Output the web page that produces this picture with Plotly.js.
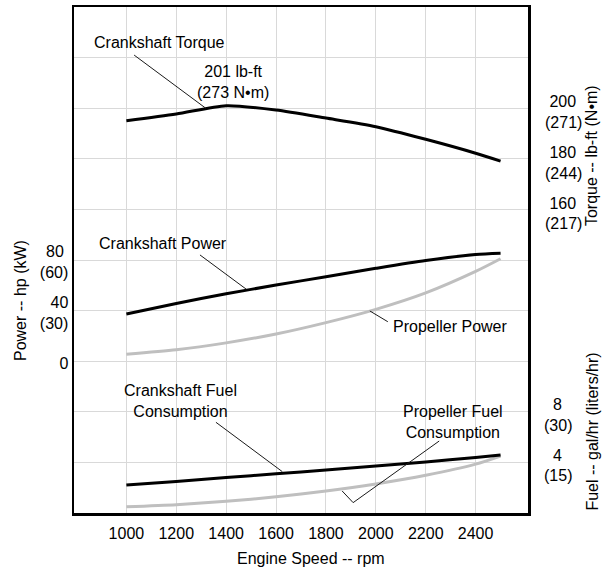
<!DOCTYPE html>
<html>
<head>
<meta charset="utf-8">
<script src="https://cdn.plot.ly/plotly-3.0.1.min.js"></script>
<style>html,body{margin:0;padding:0;background:#fff;}#chart{width:607px;height:572px;}</style>
</head>
<body>
<div id="chart"></div>
<script>
// ---- data ----
const rpm = [1000, 1200, 1400, 1600, 1800, 2000, 2200, 2400, 2500];
const crankTorque = [195.0, 197.7, 201.0, 199.3, 196.1, 192.7, 187.7, 182.2, 179.1];   // lb-ft
const crankPower = [37.3, 45.6, 53.3, 60.2, 66.8, 73.4, 79.6, 84.3, 85.3];             // hp
const propPower = [5.5, 9.0, 14.5, 21.5, 30.5, 41.0, 54.0, 71.0, 81.0];                // hp
const crankFuel = [2.21, 2.50, 2.80, 3.10, 3.40, 3.72, 4.04, 4.38, 4.58];              // gal/hr
const propFuel = [0.50, 0.66, 0.92, 1.28, 1.74, 2.30, 2.98, 3.86, 4.50];               // gal/hr

const xTicks = [1000, 1200, 1400, 1600, 1800, 2000, 2200, 2400];
const powerGrid = [-80, -40, 0, 40, 80, 120, 160, 200, 240];
const powerTickLabels = ['', '', '0', '40<br>(30)', '80\u00a0<br>(60)', '', '', '', ''];
const torqueTicks = [160, 180, 200];
const torqueTickLabels = ['\u00a0160<br>(217)', '\u00a0180<br>(244)', '\u00a0200<br>(271)'];
const fuelTicks = [4, 8];
const fuelTickLabels = ['\u00a0\u00a04<br>(15)', '\u00a0\u00a08<br>(30)'];

const FONT = '"Liberation Sans", Arial, Helvetica, sans-serif';
const BLACK = '#000000';
const GREY = '#bfbfbf';

function curve(y, axis, color) {
  return {
    x: rpm, y: y, yaxis: axis, type: 'scatter', mode: 'lines',
    line: {color: color, width: 3, shape: 'spline', smoothing: 0.7},
    hoverinfo: 'skip', showlegend: false
  };
}

const traces = [
  curve(crankTorque, 'y2', BLACK),
  curve(propPower, 'y', GREY),
  curve(crankPower, 'y', BLACK),
  curve(propFuel, 'y3', GREY),
  curve(crankFuel, 'y3', BLACK)
];

function leader(x0, y0, x1, y1, yref) {
  return {type: 'line', xref: 'x', yref: yref, x0: x0, y0: y0, x1: x1, y1: y1,
          line: {color: '#1a1a1a', width: 1}, layer: 'above'};
}
function label(text, x, y, yref) {
  return {text: text, x: x, y: y, xref: 'x', yref: yref, showarrow: false,
          font: {family: FONT, size: 16, color: BLACK}, xanchor: 'center', yanchor: 'middle'};
}
function vtitle(text, x, y) {
  return {text: text, x: x, y: y, xref: 'paper', yref: 'paper', showarrow: false, textangle: -90,
          font: {family: FONT, size: 16, color: BLACK}, xanchor: 'center', yanchor: 'middle'};
}

const layout = {
  width: 607, height: 572,
  margin: {l: 74, r: 79, t: 7, b: 59, pad: 0},
  paper_bgcolor: '#ffffff', plot_bgcolor: '#ffffff',
  font: {family: FONT, size: 16, color: BLACK},
  showlegend: false,
  xaxis: {
    range: [790, 2610], tickmode: 'array', tickvals: xTicks,
    showgrid: true, gridcolor: '#d9d9d9', gridwidth: 1, zeroline: false,
    showline: true, mirror: true, linecolor: BLACK, linewidth: 2.5,
    ticks: '', ticklabelstandoff: 4,
    tickfont: {family: FONT, size: 16, color: BLACK}
  },
  yaxis: {
    range: [-120, 280], tickmode: 'array', tickvals: powerGrid, ticktext: powerTickLabels,
    showgrid: true, gridcolor: '#d9d9d9', gridwidth: 1, zeroline: false,
    showline: true, mirror: true, linecolor: BLACK, linewidth: 2.5,
    ticks: '', ticklabelstandoff: 0, ticklabelshift: 2,
    tickfont: {family: FONT, size: 16, color: BLACK}
  },
  yaxis2: {
    overlaying: 'y', side: 'right', anchor: 'x',
    range: [40, 240], tickmode: 'array', tickvals: torqueTicks, ticktext: torqueTickLabels,
    showgrid: false, zeroline: false, showline: false, ticks: '', ticklabelstandoff: 16,
    ticklabelshift: 4,
    tickfont: {family: FONT, size: 16, color: BLACK}
  },
  yaxis3: {
    overlaying: 'y', side: 'right', anchor: 'x',
    range: [0, 40], tickmode: 'array', tickvals: fuelTicks, ticktext: fuelTickLabels,
    showgrid: false, zeroline: false, showline: false, ticks: '', ticklabelstandoff: 15,
    ticklabelshift: 3,
    tickfont: {family: FONT, size: 16, color: BLACK}
  },
  shapes: [
    leader(1031, 221, 1318, 200, 'y2'),
    leader(1295, 84, 1480, 57, 'y'),
    leader(1976, 39.7, 2048, 31.2, 'y'),
    leader(1359, 7.17, 1625, 3.27, 'y3'),
    leader(2254, 5.69, 1909, 0.82, 'y3'),
    leader(1909, 0.82, 1865, 1.74, 'y3')
  ],
  annotations: [
    label('Crankshaft Torque', 1134, 225.8, 'y2'),
    label('201 lb-ft<br>(273 N•m)', 1427, 210.4, 'y2'),
    label('Crankshaft Power', 1145, 93.4, 'y'),
    label('Propeller Power', 2300, 27.8, 'y'),
    label('Crankshaft Fuel<br>Consumption', 1218, 8.85, 'y3'),
    label('Propeller Fuel<br>Consumption', 2311, 7.2, 'y3'),
    {text: 'Engine Speed -- rpm', x: 0.5227, y: -0.089, xref: 'paper', yref: 'paper', showarrow: false,
     font: {family: FONT, size: 16, color: BLACK}, xanchor: 'center', yanchor: 'middle'},
    vtitle('Power -- hp (kW)', -0.1167, 0.419),
    vtitle('Torque -- lb-ft (N•m)', 1.14, 0.7065),
    vtitle('Fuel -- gal/hr (liters/hr)', 1.14, 0.16)
  ]
};

Plotly.newPlot('chart', traces, layout, {staticPlot: true, displayModeBar: false});
</script>
</body>
</html>
